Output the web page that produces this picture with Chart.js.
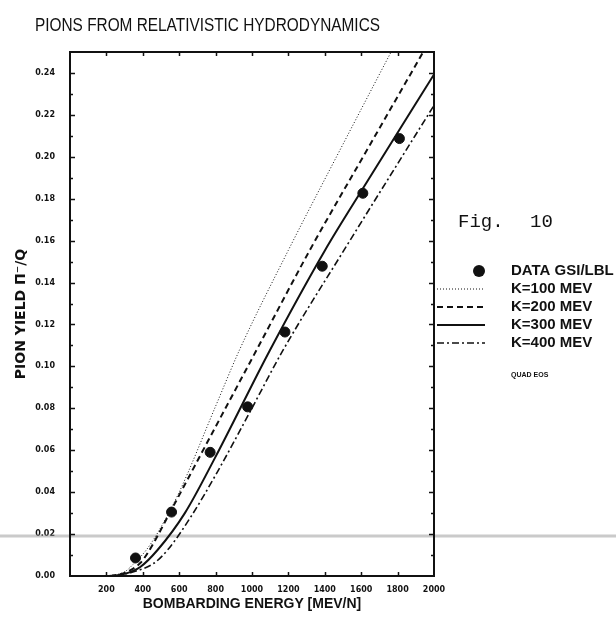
<!DOCTYPE html>
<html>
<head>
<meta charset="utf-8">
<title>Pions from relativistic hydrodynamics</title>
<script src="https://cdn.jsdelivr.net/npm/chart.js@4.4.0/dist/chart.umd.min.js"></script>
<style>
  html, body { margin: 0; padding: 0; background: #fff; }
</style>
</head>
<body>
<canvas id="myChart" width="616" height="617"></canvas>
<script>
// measured pion yields (GSI/LBL)
const dataEnergy = [360, 558, 770, 976, 1181, 1386, 1609, 1810];
const dataYield = [0.0086, 0.0305, 0.059, 0.0807, 0.1164, 0.1478, 0.1826, 0.2087];

// hydrodynamics curves for four compressibilities K
const k100Energy = [200, 300, 354, 420, 481, 600, 800, 931, 1199, 1500, 1800];
const k100Yield = [0, 0.002, 0.0062, 0.0125, 0.0205, 0.04, 0.081, 0.1078, 0.1553, 0.206, 0.256];

const k200Energy = [220, 300, 386, 427, 565, 725, 1025, 1316, 1650, 1944, 2000];
const k200Yield = [0, 0.0015, 0.0062, 0.011, 0.0329, 0.059, 0.1078, 0.1552, 0.206, 0.2505, 0.259];

const k300Energy = [230, 300, 386, 481, 631, 798, 1097, 1399, 1610, 2000];
const k300Yield = [0, 0.001, 0.0043, 0.0124, 0.03, 0.0566, 0.1075, 0.1551, 0.185, 0.2393];

const k400Energy = [250, 350, 463, 536, 663, 814, 984, 1169, 1503, 1969, 2000];
const k400Yield = [0, 0.002, 0.0062, 0.0124, 0.0281, 0.0503, 0.0775, 0.1075, 0.1551, 0.2202, 0.2245];

// axis ticks
const xTicks = [0, 200, 400, 600, 800, 1000, 1200, 1400, 1600, 1800, 2000];
const xTickLabels = ["", "200", "400", "600", "800", "1000", "1200", "1400", "1600", "1800", "2000"];
const yTicks = [0, 0.02, 0.04, 0.06, 0.08, 0.1, 0.12, 0.14, 0.16, 0.18, 0.2, 0.22, 0.24];
const yTickLabels = ["0.00", "0.02", "0.04", "0.06", "0.08", "0.10", "0.12", "0.14", "0.16", "0.18", "0.20", "0.22", "0.24"];

const legendLabels = ["DATA GSI/LBL", "K=100 MEV", "K=200 MEV", "K=300 MEV", "K=400 MEV"];

function pairs(xs, ys) {
  return xs.map((x, i) => ({ x: x, y: ys[i] }));
}

const INK = "#111";
const LABEL_FONT = "'Liberation Sans', Arial, sans-serif";
const WIDE_FONT = "'DejaVu Sans', sans-serif";

function curve(label, xs, ys, width, dash) {
  return {
    type: "line",
    label: label,
    data: pairs(xs, ys),
    borderColor: INK,
    borderWidth: width,
    borderDash: dash,
    pointRadius: 0,
    fill: false,
    cubicInterpolationMode: "monotone",
  };
}

// frame, inward ticks, title, legend and notes
const decor = {
  id: "decor",
  beforeDatasetsDraw(chart) {
    const ctx = chart.ctx;
    const y = chart.scales.y.getPixelForValue(0.02) + 2;
    // faint streak across the sheet
    ctx.save();
    ctx.strokeStyle = "rgba(150,150,150,0.5)";
    ctx.lineWidth = 3;
    ctx.beginPath();
    ctx.moveTo(0, y);
    ctx.lineTo(chart.width, y);
    ctx.stroke();
    ctx.restore();
  },
  afterDraw(chart) {
    const ctx = chart.ctx;
    const a = chart.chartArea;
    const xs = chart.scales.x;
    const ys = chart.scales.y;
    ctx.save();
    ctx.strokeStyle = INK;
    ctx.lineWidth = 2;
    ctx.strokeRect(a.left, a.top, a.right - a.left, a.bottom - a.top);

    ctx.lineWidth = 1.5;
    ctx.beginPath();
    for (let v = 0.01; v < 0.25; v += 0.01) {
      const py = Math.round(ys.getPixelForValue(v)) + 0.5;
      const major = Math.round(v * 100) % 2 === 0;
      const len = major ? 5 : 3;
      ctx.moveTo(a.left, py);
      ctx.lineTo(a.left + len, py);
      ctx.moveTo(a.right, py);
      ctx.lineTo(a.right - len, py);
    }
    xTicks.slice(1, -1).forEach((v) => {
      const px = Math.round(xs.getPixelForValue(v)) + 0.5;
      ctx.moveTo(px, a.bottom);
      ctx.lineTo(px, a.bottom - 4);
      ctx.moveTo(px, a.top);
      ctx.lineTo(px, a.top + 4);
    });
    ctx.stroke();

    // heading, tall narrow lettering
    ctx.fillStyle = INK;
    ctx.textBaseline = "middle";
    ctx.textAlign = "left";
    ctx.font = "19px " + LABEL_FONT;
    ctx.fillText("PIONS FROM RELATIVISTIC HYDRODYNAMICS", 35, 26, 345);

    // figure number
    ctx.font = "19px 'Liberation Mono', 'Courier New', monospace";
    ctx.fillText("Fig.", 458, 222);
    ctx.fillText("10", 530, 222);

    // legend
    const lx = 437, lw = 48, tx = 511;
    const rowY = [271, 289, 307, 325, 343];
    ctx.font = "bold 15px " + LABEL_FONT;
    legendLabels.forEach((t, i) => {
      ctx.fillText(t, tx, rowY[i]);
    });
    ctx.beginPath();
    ctx.arc(479, rowY[0], 6, 0, Math.PI * 2);
    ctx.fill();
    chart.data.datasets.slice(1).forEach((ds, i) => {
      ctx.lineWidth = ds.borderWidth;
      ctx.setLineDash(ds.borderDash);
      ctx.beginPath();
      ctx.moveTo(lx, rowY[i + 1]);
      ctx.lineTo(lx + lw, rowY[i + 1]);
      ctx.stroke();
    });
    ctx.setLineDash([]);

    ctx.font = "bold 7px " + LABEL_FONT;
    ctx.fillText("QUAD EOS", 511, 375);
    ctx.restore();
  },
};

const ctx = document.getElementById("myChart").getContext("2d");
const myChart = new Chart(ctx, {
  data: {
    datasets: [
      {
        type: "scatter",
        label: legendLabels[0],
        data: pairs(dataEnergy, dataYield),
        backgroundColor: INK,
        borderColor: INK,
        pointRadius: 5,
        pointStyle: "circle",
      },
      curve(legendLabels[1], k100Energy, k100Yield, 1, [1, 2]),
      curve(legendLabels[2], k200Energy, k200Yield, 2, [6, 4]),
      curve(legendLabels[3], k300Energy, k300Yield, 2, []),
      curve(legendLabels[4], k400Energy, k400Yield, 1.6, [7, 3, 2, 3]),
    ],
  },
  options: {
    responsive: false,
    animation: false,
    layout: { padding: { top: 52, right: 182, left: 0, bottom: 0 } },
    plugins: {
      legend: { display: false },
      tooltip: { enabled: false },
    },
    scales: {
      x: {
        type: "linear",
        min: 0,
        max: 2000,
        afterFit(scale) {
          scale.height = 41;
        },
        afterBuildTicks(scale) {
          scale.ticks = xTicks.map((v) => ({ value: v }));
        },
        grid: { display: false, drawTicks: false },
        border: { display: false },
        ticks: {
          padding: 9,
          maxRotation: 0,
          autoSkip: false,
          color: INK,
          font: { family: WIDE_FONT, weight: "bold", size: 8 },
          callback: (v, i) => xTickLabels[i],
        },
        title: {
          display: true,
          text: "BOMBARDING ENERGY [MEV/N]",
          color: INK,
          font: { family: LABEL_FONT, weight: "bold", size: 14 },
          padding: { top: 0, bottom: 4 },
        },
      },
      y: {
        type: "linear",
        min: 0,
        max: 0.25,
        afterFit(scale) {
          scale.width = 70;
        },
        afterBuildTicks(scale) {
          scale.ticks = yTicks.map((v) => ({ value: v }));
        },
        grid: { display: false, drawTicks: false },
        border: { display: false },
        ticks: {
          padding: 15,
          autoSkip: false,
          color: INK,
          font: { family: WIDE_FONT, weight: "bold", size: 8 },
          callback: (v, i) => yTickLabels[i],
        },
        title: {
          display: true,
          text: "PION YIELD \u03A0\u207B/Q",
          color: INK,
          font: { family: WIDE_FONT, weight: "bold", size: 14 },
          padding: { top: 13, bottom: 0 },
        },
      },
    },
  },
  plugins: [decor],
});
</script>
</body>
</html>
